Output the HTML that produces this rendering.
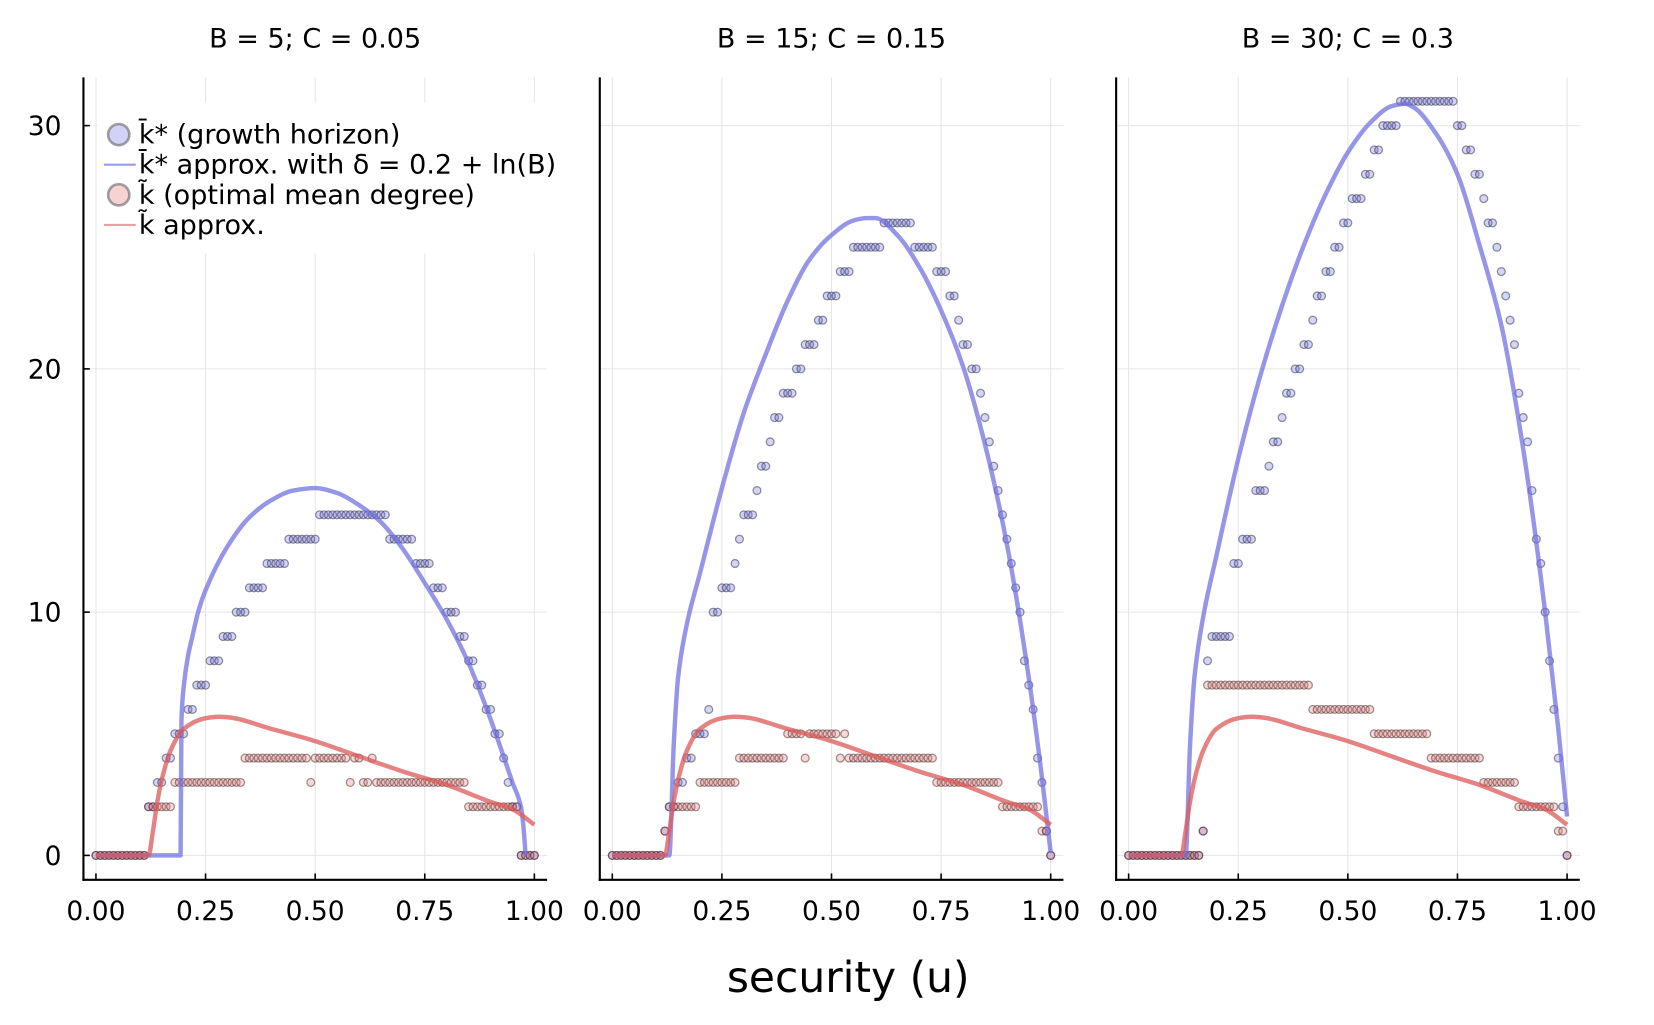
<!DOCTYPE html>
<html><head><meta charset="utf-8"><style>
html,body{margin:0;padding:0;background:#fff;}
svg{display:block;font-family:"DejaVu Sans","Liberation Sans",sans-serif;}
</style></head><body>
<svg id="chart" width="1654" height="1025" viewBox="0 0 1560 967" preserveAspectRatio="none" xmlns="http://www.w3.org/2000/svg">
<text x="800" y="936" font-size="40" text-anchor="middle" fill="#000">security (u)</text>
</svg>
<script>
// ---- data ----
const panelTitles = ["B = 5; C = 0.05", "B = 15; C = 0.15", "B = 30; C = 0.3"];
const xTicks = [0, 0.25, 0.5, 0.75, 1];
const xTickLabels = ["0.00", "0.25", "0.50", "0.75", "1.00"];
const yTicks = [0, 10, 20, 30];
const yTickLabels = ["0", "10", "20", "30"];
// dot series as run-lengths [value, count] over u = 0.00..1.00 step 0.01
const kStarRuns1 = [[0,12],[2,2],[3,2],[4,2],[5,3],[6,2],[7,3],[8,3],[9,3],[10,3],[11,4],[12,5],[13,7],[14,16],[13,6],[12,4],[11,3],[10,3],[9,2],[8,2],[7,2],[6,2],[5,2],[4,1],[3,1],[2,2],[0,4]];
const kTildeRuns1 = [[0,12],[2,6],[3,16],[4,15],[3,1],[4,8],[3,1],[4,2],[3,2],[4,1],[3,21],[2,12],[0,4]];
const kStarRuns2 = [[0,12],[1,1],[2,2],[3,2],[4,2],[5,3],[6,1],[10,2],[11,3],[12,1],[13,1],[14,3],[15,1],[16,2],[17,1],[18,2],[19,3],[20,2],[21,3],[22,2],[23,3],[24,3],[25,7],[26,7],[25,5],[24,3],[23,2],[22,1],[21,2],[20,2],[19,1],[18,1],[17,1],[16,1],[15,1],[14,1],[13,1],[12,1],[11,1],[10,1],[8,1],[7,1],[6,1],[4,1],[3,1],[1,1],[0,1]];
const kTildeRuns2 = [[0,12],[1,1],[2,7],[3,9],[4,11],[5,4],[4,1],[5,7],[4,1],[5,1],[4,20],[3,15],[2,9],[1,2],[0,1]];
const kStarRuns3 = [[0,17],[1,1],[8,1],[9,5],[12,2],[13,3],[15,3],[16,1],[17,2],[18,1],[19,2],[20,2],[21,2],[22,1],[23,2],[24,2],[25,2],[26,2],[27,3],[28,2],[29,2],[30,4],[31,13],[30,2],[29,2],[28,2],[27,1],[26,2],[25,1],[24,1],[23,1],[22,1],[21,1],[19,1],[18,1],[17,1],[15,1],[13,1],[12,1],[10,1],[8,1],[6,1],[4,1],[2,1],[0,1]];
const kTildeRuns3 = [[0,17],[1,1],[7,24],[6,14],[5,13],[4,12],[3,8],[2,9],[1,2],[0,1]];
// approximation curves
const blueU1 = [0,0.193,0.195,0.20,0.21,0.22,0.233,0.25,0.30,0.35,0.40,0.45,0.50,0.55,0.60,0.65,0.70,0.75,0.80,0.85,0.90,0.95,0.97,0.975,0.98];
const blueK1 = [0,0,5.5,6.9,8.2,9,10,10.9,12.7,13.9,14.6,15,15.1,14.9,14.4,13.7,12.6,11.2,9.7,7.9,5.6,3.0,1.95,1.2,0];
const blueU2 = [0,0.13,0.14,0.15,0.17,0.20,0.25,0.30,0.35,0.40,0.45,0.50,0.55,0.58,0.60,0.65,0.70,0.75,0.80,0.85,0.90,0.95,0.98,1.0];
const blueK2 = [0,0,4.5,7.3,9.5,11.6,15.1,18.2,20.6,22.8,24.5,25.5,26.1,26.2,26.2,25.5,24.2,22.4,20.1,16.9,12.8,7.3,3.2,0.1];
const blueU3 = [0,0.13,0.14,0.15,0.17,0.20,0.25,0.30,0.35,0.40,0.45,0.50,0.55,0.60,0.63,0.65,0.70,0.75,0.80,0.85,0.90,0.95,0.98,1.0];
const blueK3 = [0,0,4.5,7.3,9.8,12.3,16.3,19.7,22.6,25.1,27.2,28.9,30.1,30.8,30.9,30.75,29.7,28,25.1,21.8,16.7,10,5.2,1.6];
const redU = [0,0.12,0.13,0.14,0.15,0.17,0.20,0.25,0.28,0.30,0.40,0.50,0.60,0.70,0.80,0.90,0.95,1.0];
const redK = [0,0,1,2.2,3.1,4.3,5.2,5.64,5.7,5.68,5.2,4.7,4.07,3.45,2.9,2.2,1.9,1.26];

// ---- drawing ----
const NS = "http://www.w3.org/2000/svg";
const svg = document.getElementById("chart");
const panelX0 = [90.5, 577.5, 1064.5];
const plotW = 413.5;
const y0px = 807, yPerUnit = 22.95;
const axisTop = 73, axisBottom = 830;
function mk(tag, attrs, parent) {
  const e = document.createElementNS(NS, tag);
  for (const k in attrs) e.setAttribute(k, attrs[k]);
  (parent || svg).appendChild(e);
  return e;
}
function expand(runs) { const out = []; runs.forEach(r => { for (let i = 0; i < r[1]; i++) out.push(r[0]); }); return out; }
// monotone cubic (Fritsch-Carlson) path through pixel points with increasing x
function monoPath(pts) {
  const n = pts.length, dx = [], s = [], m = [];
  for (let i = 0; i < n - 1; i++) { dx[i] = pts[i + 1][0] - pts[i][0]; s[i] = (pts[i + 1][1] - pts[i][1]) / dx[i]; }
  m[0] = s[0]; m[n - 1] = s[n - 2];
  for (let i = 1; i < n - 1; i++) {
    if (s[i - 1] * s[i] <= 0) m[i] = 0;
    else { const w1 = 2 * dx[i] + dx[i - 1], w2 = dx[i] + 2 * dx[i - 1]; m[i] = (w1 + w2) / (w1 / s[i - 1] + w2 / s[i]); }
  }
  let d = "M" + pts[0][0] + "," + pts[0][1];
  for (let i = 0; i < n - 1; i++) {
    const h = dx[i] / 3;
    d += " C" + (pts[i][0] + h) + "," + (pts[i][1] + m[i] * h) + " " + (pts[i + 1][0] - h) + "," + (pts[i + 1][1] - m[i + 1] * h) + " " + pts[i + 1][0] + "," + pts[i + 1][1];
  }
  return d;
}
const starSets = [kStarRuns1, kStarRuns2, kStarRuns3];
const tildeSets = [kTildeRuns1, kTildeRuns2, kTildeRuns3];
const blueUs = [blueU1, blueU2, blueU3];
const blueKs = [blueK1, blueK2, blueK3];

for (let p = 0; p < 3; p++) {
  const x0 = panelX0[p];
  const xs = u => x0 + u * plotW;
  const ys = v => y0px - v * yPerUnit;
  const g = mk("g", {});
  
  
  xTicks.forEach(t => {
    const l = mk("line", {x1: xs(t), x2: xs(t), y1: axisTop, y2: axisBottom - 2, stroke: "#e6e6e6", "stroke-width": 1}, g);
    
    
  });
  yTicks.forEach(t => {
    const l = mk("line", {x1: x0 - 11.8, x2: x0 + plotW + 12, y1: ys(t), y2: ys(t), stroke: "#e6e6e6", "stroke-width": 1}, g);
    
    
  });
  const tt = mk("text", {x: x0 + plotW / 2, y: 45, "font-size": 25.5, "text-anchor": "middle", fill: "#000"}, g);
  tt.textContent = panelTitles[p];
  
  
  if (p === 0) {
    const lb = mk("rect", {x: 92, y: 97, width: 440, height: 142, fill: "#fff"}, g);
    
    
  }
  const ya = mk("line", {x1: x0 - 11.8, x2: x0 - 11.8, y1: axisTop, y2: axisBottom + 1, stroke: "#000", "stroke-width": 2}, g);
  
  
  const xa = mk("line", {x1: x0 - 12.8, x2: x0 + plotW + 12, y1: axisBottom, y2: axisBottom, stroke: "#000", "stroke-width": 2}, g);
  
  
  xTicks.forEach((t, i) => {
    const tk = mk("line", {x1: xs(t), x2: xs(t), y1: axisBottom, y2: axisBottom - 6, stroke: "#000", "stroke-width": 1.5}, g);
    
    
    const tl = mk("text", {x: xs(t), y: 868, "font-size": 25, "text-anchor": "middle", fill: "#000"}, g);
    tl.textContent = xTickLabels[i];
    
    
  });
  if (p === 0) {
    yTicks.forEach((t, i) => {
      const tk = mk("line", {x1: x0 - 11.8, x2: x0 - 5.8, y1: ys(t), y2: ys(t), stroke: "#000", "stroke-width": 1.5}, g);
      
      
      const tl = mk("text", {x: 58, y: ys(t) + 9, "font-size": 25, "text-anchor": "end", fill: "#000"}, g);
      tl.textContent = yTickLabels[i];
      
      
    });
  }
  const star = expand(starSets[p]);
  star.forEach((v, i) => {
    const c = mk("circle", {cx: xs(i / 100), cy: ys(v), r: 3.7, fill: "rgba(120,120,225,0.32)", stroke: "rgba(40,40,70,0.5)", "stroke-width": 1.2}, g);
    
    
  });
  const tilde = expand(tildeSets[p]);
  tilde.forEach((v, i) => {
    const c = mk("circle", {cx: xs(i / 100), cy: ys(v), r: 3.7, fill: "rgba(230,130,130,0.32)", stroke: "rgba(70,40,40,0.5)", "stroke-width": 1.2}, g);
    
    
  });
  const bu = blueUs[p], bk = blueKs[p];
  const bl = mk("path", {d: monoPath(bu.map((u, i) => [xs(u), ys(bk[i])])), fill: "none", stroke: "rgba(110,110,225,0.72)", "stroke-width": 4.2, "stroke-linejoin": "round"}, g);
  
  
  const rl = mk("path", {d: monoPath(redU.map((u, i) => [xs(u), ys(redK[i])])), fill: "none", stroke: "rgba(220,90,90,0.75)", "stroke-width": 4.2, "stroke-linejoin": "round"}, g);
  
  
}

const legendLabels = ["k\u0304* (growth horizon)", "k\u0304* approx. with \u03b4 = 0.2 + ln(B)", "k\u0303 (optimal mean degree)", "k\u0303 approx."];
const legendKinds = ["dot-blue", "line-blue", "dot-red", "line-red"];
const lg = mk("g", {});


legendLabels.forEach((lab, i) => {
  const cy = 127 + i * 28.4;
  const kind = legendKinds[i];
  let sym;
  if (kind === "dot-blue") sym = mk("circle", {cx: 112, cy: cy, r: 10, fill: "rgba(180,180,245,0.6)", stroke: "rgba(100,100,100,0.6)", "stroke-width": 2.5}, lg);
  else if (kind === "dot-red") sym = mk("circle", {cx: 112, cy: cy, r: 10, fill: "rgba(240,180,180,0.6)", stroke: "rgba(100,100,100,0.6)", "stroke-width": 2.5}, lg);
  else sym = mk("line", {x1: 98, x2: 128, y1: cy, y2: cy, stroke: kind === "line-blue" ? "#9a9af0" : "#e8a0a0", "stroke-width": 2}, lg);
  
  
  const t = mk("text", {x: 131, y: cy + 8.5, "font-size": 25.5, fill: "#000"}, lg);
  t.textContent = lab;
  
  
});
</script>
</body></html>
